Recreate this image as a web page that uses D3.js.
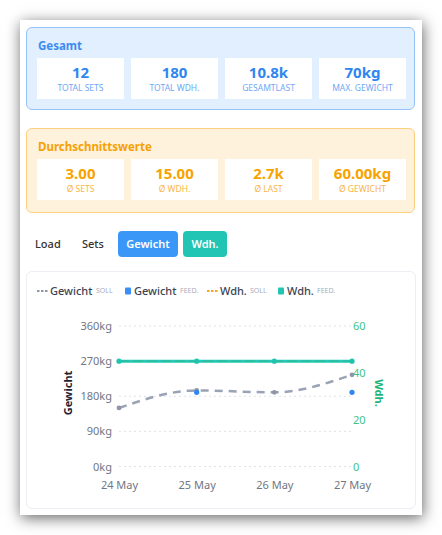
<!DOCTYPE html>
<html>
<head>
<meta charset="utf-8">
<script src="https://cdn.jsdelivr.net/npm/d3@7"></script>
<style>
  body { margin: 0; background: #fff; font-family: "Noto Sans", "Inter", sans-serif; }
  #page { position: relative; width: 442px; height: 535px; overflow: hidden; }
  #card { position: absolute; left: 20px; top: 20px; width: 402px; height: 495px; background: #fff;
          box-shadow: 1px 3px 14px rgba(0,0,0,0.6); }
  .panel { position: absolute; left: 6px; width: 389px; border-radius: 6px; box-sizing: border-box; }
  .ptitle { position: absolute; left: 11px; font-size: 11.5px; font-weight: 700; }
  .stat { position: absolute; width: 87px; height: 41px; background: #fff; text-align: center; }
  .stat .v { position: absolute; left: 0; right: 0; top: 4px; font-size: 15px; font-weight: 700; }
  .stat .l { position: absolute; left: 0; right: 0; top: 24px; font-size: 8.5px; text-transform: uppercase; }
  .tab { position: absolute; font-size: 11px; height: 26px; line-height: 26px; text-align: center; border-radius: 4px; }
  #chartcard { position: absolute; left: 6px; top: 251px; width: 390px; height: 238px; box-sizing: border-box;
               border: 1px solid #eceef4; border-radius: 6px; background: #fff; }
</style>
</head>
<body>
<div id="page"><div id="card"></div></div>
<script>
// summary values
var gesamtValues = ["12", "180", "10.8k", "70kg"];
var gesamtLabels = ["Total Sets", "Total Wdh.", "Gesamtlast", "Max. Gewicht"];
var avgValues = ["3.00", "15.00", "2.7k", "60.00kg"];
var avgLabels = ["\u00d8 Sets", "\u00d8 Wdh.", "\u00d8 Last", "\u00d8 Gewicht"];
var tabs = ["Load", "Sets", "Gewicht", "Wdh."];

// chart data
var days = ["24 May", "25 May", "26 May", "27 May"];
var gewichtSoll = [150, 195, 190, 235];
var gewichtFeed = [null, 190, null, 190];
var wdhSoll = [45, 45, 45, 45];
var wdhFeed = [45, 45, 45, 45];
var kgTicks = [0, 90, 180, 270, 360];
var wdhTicks = [0, 20, 40, 60];

var card = d3.select("#card");

function panel(top, height, title, bg, border, titleColor, valColor, labColor, vals, labs) {
    var p = card.append("div").attr("class", "panel")
        .style("top", top + "px").style("height", height + "px")
        .style("background", bg).style("border", "1.5px solid " + border);
    p.append("div").attr("class", "ptitle").style("top", "10px")
        .style("color", titleColor).text(title);
    for (var i = 0; i < vals.length; i++) {
        var s = p.append("div").attr("class", "stat")
            .style("left", (10 + i * 94) + "px").style("top", "30px");
        s.append("div").attr("class", "v").style("color", valColor).text(vals[i]);
        s.append("div").attr("class", "l").style("color", labColor).text(labs[i]);
    }
}

panel(7, 83, "Gesamt", "#e2effe", "#96c3f7", "#3b8cf0", "#2f86f0", "#6ea9f4", gesamtValues, gesamtLabels);
panel(108, 85, "Durchschnittswerte", "#fff2dc", "#fcd07c", "#f5a104", "#f7a300", "#f8b546", avgValues, avgLabels);

// tabs
var tabPos = [[15, 36, null], [62, 36, null], [98, 60, "#3a97f7"], [163, 44, "#22c4b4"]];
tabs.forEach(function(t, i) {
    var d = card.append("div").attr("class", "tab")
        .style("left", tabPos[i][0] + "px").style("top", "211px")
        .style("width", tabPos[i][1] + "px").text(t);
    if (tabPos[i][2]) {
        d.style("background", tabPos[i][2]).style("color", "#fff").style("font-weight", "600");
    } else {
        d.style("color", "#333").style("font-weight", "500").style("text-align", "left");
    }
});

// chart
var W = 390, H = 238;
card.append("div").attr("id", "chartcard");
var svg = d3.select("#chartcard").append("svg").attr("width", W).attr("height", H)
    .style("position", "absolute").style("left", "-1px").style("top", "-1px");

var x = d3.scalePoint().domain(days).range([93, 326]);
var yKg = d3.scaleLinear().domain([0, 360]).range([195.5, 55]);
var yWdh = d3.scaleLinear().domain([0, 60]).range([195.5, 55]);

var tickFont = "11px";
// gridlines
svg.append("g").selectAll("line").data(kgTicks).join("line")
    .attr("x1", x.range()[0]).attr("x2", x.range()[1])
    .attr("y1", function(d) { return yKg(d); }).attr("y2", function(d) { return yKg(d); })
    .attr("stroke", "#dfe2e8").attr("stroke-width", 1).attr("stroke-dasharray", "2,3");

// left axis
var gl = svg.append("g").attr("transform", "translate(" + (x.range()[0] - 7) + ",0)")
    .call(d3.axisLeft(yKg).tickValues(kgTicks).tickSize(0).tickPadding(0).tickFormat(function(d) { return d + "kg"; }));
gl.select(".domain").remove();
gl.selectAll("text").attr("fill", "#707684").style("font-size", tickFont).style("font-family", "Noto Sans");

// right axis
var gr = svg.append("g").attr("transform", "translate(" + (x.range()[1] + 1) + ",0)")
    .call(d3.axisRight(yWdh).tickValues(wdhTicks).tickSize(0).tickPadding(0));
gr.select(".domain").remove();
gr.selectAll("text").attr("fill", "#3dc486").style("font-size", tickFont).style("font-family", "Noto Sans");

// bottom axis
var gb = svg.append("g").attr("transform", "translate(0," + (yKg(0) + 15) + ")")
    .call(d3.axisBottom(x).tickSize(0).tickPadding(0));
gb.select(".domain").remove();
gb.selectAll("text").attr("fill", "#707684").style("font-size", tickFont).style("font-family", "Noto Sans");

// axis titles
svg.append("text").attr("transform", "translate(46,122) rotate(-90)")
    .attr("text-anchor", "middle").attr("font-size", "11px").attr("font-weight", 700)
    .attr("fill", "#1c2333").text("Gewicht");
svg.append("text").attr("transform", "translate(349,122) rotate(90)")
    .attr("text-anchor", "middle").attr("font-size", "11px").attr("font-weight", 700)
    .attr("fill", "#1fb57a").text("Wdh.");

// Wdh lines
var lineW = d3.line().x(function(d, i) { return x(days[i]); }).y(function(d) { return yWdh(d); });
svg.append("path").datum(wdhFeed).attr("d", lineW).attr("fill", "none")
    .attr("stroke", "#27c9b6").attr("stroke-width", 3);
svg.append("path").datum(wdhSoll).attr("d", lineW).attr("fill", "none")
    .attr("stroke", "#2ab58a").attr("stroke-width", 1.5).attr("stroke-dasharray", "10,4").attr("opacity", 0.6);
svg.append("g").selectAll("circle").data(wdhFeed).join("circle")
    .attr("cx", function(d, i) { return x(days[i]); }).attr("cy", function(d) { return yWdh(d); })
    .attr("r", 2.6).attr("fill", "#1fc4ae");

// Gewicht soll (dashed smooth)
var lineG = d3.line().curve(d3.curveMonotoneX)
    .x(function(d, i) { return x(days[i]); }).y(function(d) { return yKg(d); });
svg.append("path").datum(gewichtSoll).attr("d", lineG).attr("fill", "none")
    .attr("stroke", "#9aa3b5").attr("stroke-width", 2.5).attr("stroke-dasharray", "8,6");
svg.append("g").selectAll("circle").data(gewichtSoll).join("circle")
    .attr("cx", function(d, i) { return x(days[i]); }).attr("cy", function(d) { return yKg(d); })
    .attr("r", 2.4).attr("fill", "#8d95a6");

// Gewicht feed points
svg.append("g").selectAll("circle").data(gewichtFeed.map(function(v, i) { return {v: v, d: days[i]}; })
        .filter(function(o) { return o.v != null; })).join("circle")
    .attr("cx", function(o) { return x(o.d); }).attr("cy", function(o) { return yKg(o.v); })
    .attr("r", 2.6).attr("fill", "#2f86f5");

// legend
var legend = [
    {name: "Gewicht", tag: "SOLL", type: "dash", color: "#8e96a8", w: 43},
    {name: "Gewicht", tag: "FEED.", type: "box", color: "#3a8ff7", w: 43},
    {name: "Wdh.", tag: "SOLL", type: "dash", color: "#f5a623", w: 27},
    {name: "Wdh.", tag: "FEED.", type: "box", color: "#22c4b4", w: 27}
];
var legX = [11, 98, 181, 251];
var lg = svg.append("g").attr("transform", "translate(0,20)");
legend.forEach(function(l, i) {
    var g = lg.append("g").attr("transform", "translate(" + legX[i] + ",0)");
    if (l.type == "dash") {
        g.append("line").attr("x1", 0).attr("x2", 11).attr("y1", 0).attr("y2", 0)
            .attr("stroke", l.color).attr("stroke-width", 2).attr("stroke-dasharray", "2.5,1.5");
    } else {
        g.append("rect").attr("x", 1).attr("y", -3.5).attr("width", 6).attr("height", 7)
            .attr("rx", 1).attr("fill", l.color);
    }
    var tx = l.type == "dash" ? 13 : 10;
    g.append("text").attr("x", tx).attr("y", 4).attr("font-size", "11px").attr("font-weight", 500)
        .attr("fill", "#3d4352").text(l.name);
    g.append("text").attr("x", tx + l.w + 3).attr("y", 1.5).attr("font-size", "7px")
        .attr("fill", "#a9aebb").text(l.tag);
});
</script>
</body>
</html>
